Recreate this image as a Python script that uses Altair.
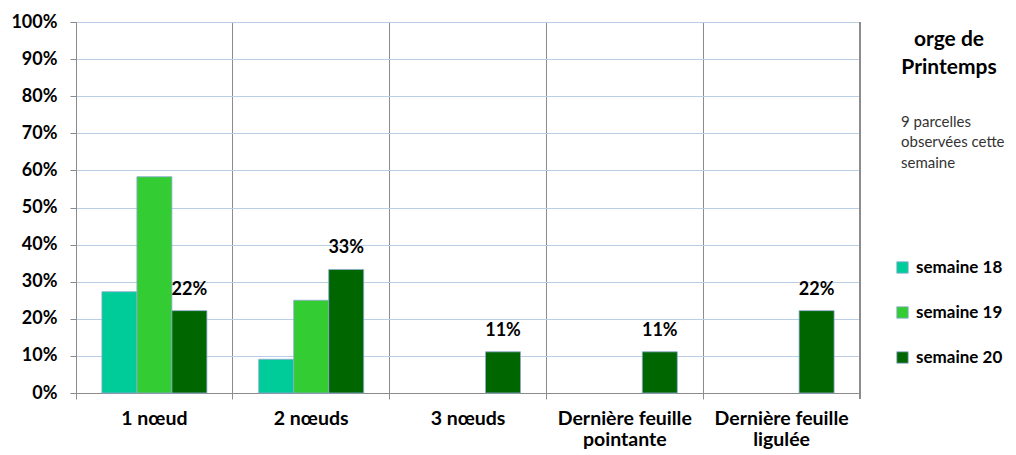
import altair as alt
import pandas as pd

categories = ["1 nœud", "2 nœuds", "3 nœuds", "Dernière feuille pointante", "Dernière feuille ligulée"]
series = ["semaine 18", "semaine 19", "semaine 20"]
s18 = [0.273, 0.091, None, None, None]
s19 = [0.583, 0.25, None, None, None]
s20 = [0.222, 0.333, 0.111, 0.111, 0.222]
colors = ["#00CC99", "#33CC33", "#006600"]
yticks = [0, 0.1, 0.2, 0.3, 0.4, 0.5, 0.6, 0.7, 0.8, 0.9, 1.0]

rows = []
for name, vals in zip(series, [s18, s19, s20]):
    for c, v in zip(categories, vals):
        if v is not None:
            rows.append({"cat": c, "serie": name, "val": v})
df = pd.DataFrame(rows)

FONT = "Lato"
W, H = 784, 371

x = alt.X("cat:N", sort=categories, title=None,
          scale=alt.Scale(paddingInner=0, paddingOuter=0),
          axis=alt.Axis(bandPosition=0, grid=True, gridColor="#8c8c8c", gridWidth=1,
                        domainColor="#8c8c8c", tickColor="#8c8c8c", tickSize=6,
                        labelAngle=0, labelFont=FONT, labelFontSize=19.5, labelFontWeight="bold",
                        labelColor="#000", labelPadding=10, labelLineHeight=21,
                        labelOverlap=False,
                        labelExpr="indexof(datum.value,'Dernière feuille ')==0 ? ['Dernière feuille', substring(datum.value,17)] : datum.value"))
xo = alt.XOffset("serie:N", sort=series,
                 scale=alt.Scale(domain=series, paddingInner=0, paddingOuter=0.74))
y = alt.Y("val:Q", title=None,
          scale=alt.Scale(domain=[0, 1], nice=False),
          axis=alt.Axis(format=".0%", values=yticks, labelOverlap=False,
                        grid=True, gridColor="#b9cde5", gridWidth=1,
                        domainColor="#8c8c8c", tickColor="#8c8c8c", tickSize=6,
                        labelFont=FONT, labelFontSize=18, labelFontWeight="bold",
                        labelColor="#000", labelPadding=13))

bars = alt.Chart(df).mark_bar(stroke="#8eaad6", strokeWidth=0.8).encode(
    x=x, xOffset=xo, y=y,
    color=alt.Color("serie:N", sort=series,
                    scale=alt.Scale(domain=series, range=colors),
                    legend=alt.Legend(title=None, orient="none", legendX=818, legendY=237,
                                      symbolType="square", symbolSize=130,
                                      symbolStrokeColor="#8eaad6", symbolStrokeWidth=0.8,
                                      labelFont=FONT, labelFontSize=17, labelFontWeight="bold",
                                      labelColor="#000", rowPadding=27, labelOffset=5)),
)

labels = alt.Chart(df).transform_filter(alt.datum.serie == "semaine 20").mark_text(
    baseline="bottom", dy=-12, font=FONT, fontSize=18, fontWeight="bold", color="#000"
).encode(x=x, xOffset=xo, y=y, text=alt.Text("val:Q", format=".0%"))

right_edge = alt.Chart(df).mark_rule(color="#8c8c8c", strokeWidth=1).encode(
    x=alt.value(W), y=alt.value(0), y2=alt.value(H + 6))

title_df = pd.DataFrame({"t": ["orge de", "Printemps"], "yy": [18, 46]})
title_txt = alt.Chart(title_df).mark_text(
    font=FONT, fontSize=21, fontWeight="bold", color="#000", align="center", baseline="middle"
).encode(text="t:N", x=alt.value(873), y=alt.Y("yy:Q", scale=None))

sub_df = pd.DataFrame({"t": ["9 parcelles", "observées cette", "semaine"], "yy": [100, 120, 141]})
sub_txt = alt.Chart(sub_df).mark_text(
    font=FONT, fontSize=15, color="#333", align="left", baseline="middle"
).encode(text="t:N", x=alt.value(825), y=alt.Y("yy:Q", scale=None))

chart = alt.layer(bars, labels, right_edge, title_txt, sub_txt).properties(
    width=W, height=H,
    autosize=alt.AutoSizeParams(type="none"),
    padding={"left": 68, "top": 14, "right": 148, "bottom": 62},
).configure_view(stroke=None).configure(background="#ffffff")

chart.save("out.html", embed_options={"renderer": "svg", "actions": False})
